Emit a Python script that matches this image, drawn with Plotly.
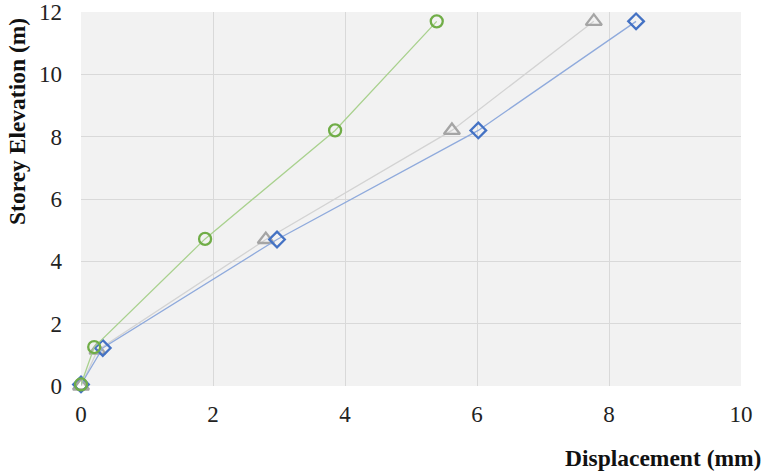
import plotly.graph_objects as go

# Storey elevations (m) and lateral displacements (mm) for three cases
elev_green = [0.05, 1.25, 4.72, 8.2, 11.7]
disp_green = [0.0, 0.2, 1.88, 3.85, 5.39]

elev_gray = [0.0, 1.15, 4.7, 8.2, 11.7]
disp_gray = [0.0, 0.25, 2.8, 5.62, 7.77]

elev_blue = [0.05, 1.22, 4.7, 8.2, 11.7]
disp_blue = [0.0, 0.33, 2.97, 6.02, 8.41]

x_ticks = [0, 2, 4, 6, 8, 10]
y_ticks = [0, 2, 4, 6, 8, 10, 12]

series = [
    (disp_gray, elev_gray, "#D3D3D3", "#A5A5A5", "triangle-up-open", 14),
    (disp_blue, elev_blue, "#8FAADC", "#4472C4", "diamond-open", 12),
    (disp_green, elev_green, "#A9D18E", "#70AD47", "circle-open", 12),
]

fig = go.Figure()
for xs, ys, lc, mc, sym, sz in series:
    fig.add_trace(go.Scatter(
        x=xs, y=ys, mode="lines+markers",
        line=dict(color=lc, width=1.3),
        marker=dict(symbol=sym, size=sz, color=mc, line=dict(color=mc, width=2.3)),
        showlegend=False, cliponaxis=False,
    ))

font = "Liberation Serif, Times New Roman, serif"
L, R, T, B = 81, 24, 12, 85
W, H = 765, 471
plot_w = W - L - R
plot_h = H - T - B

fig.update_layout(
    width=W, height=H,
    margin=dict(l=L, r=R, t=T, b=B, autoexpand=False),
    paper_bgcolor="white", plot_bgcolor="#F2F2F2",
    font=dict(family=font, size=23, color="#222222"),
    xaxis=dict(range=[0, 10], tickvals=x_ticks, showgrid=True, gridcolor="#D9D9D9",
               gridwidth=1, zeroline=False, showline=False, ticks="", automargin=False,
               tickfont=dict(size=23), ticklabelstandoff=12),
    yaxis=dict(range=[0, 12], tickvals=y_ticks, showgrid=True, gridcolor="#D9D9D9",
               gridwidth=1, zeroline=False, showline=False, ticks="", automargin=False,
               tickfont=dict(size=23), ticklabelstandoff=18),
    annotations=[
        dict(text="<b>Displacement (mm)</b>", xref="paper", yref="paper",
             x=(763 - L) / plot_w, xanchor="right",
             y=-(458 - (H - B)) / plot_h, yanchor="middle",
             showarrow=False, font=dict(size=23.5, family=font, color="#111111")),
        dict(text="<b>Storey Elevation (m)</b>", xref="paper", yref="paper",
             x=-(L - 17) / plot_w, xanchor="center",
             y=((H - B) - 122) / plot_h, yanchor="middle",
             textangle=-90, showarrow=False,
             font=dict(size=23.5, family=font, color="#111111")),
    ],
)

fig.write_html("out.html")
